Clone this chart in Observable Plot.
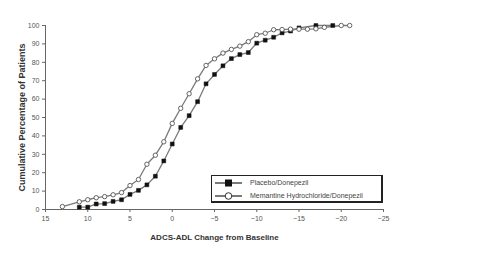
<!DOCTYPE html>
<html><head><meta charset="utf-8">
<script src="https://cdn.jsdelivr.net/npm/d3@7"></script>
<script src="https://cdn.jsdelivr.net/npm/@observablehq/plot@0.6"></script>
<style>
body{margin:0;background:#fff;}
#wrap{position:relative;width:483px;height:257px;font-family:Arial,"Liberation Sans",sans-serif;}
#legend{position:absolute;left:211px;top:175px;width:169px;height:25px;border:1.5px solid #222;border-right-width:2px;border-bottom-width:2px;background:#fff;}
#legend svg{display:block;}
</style></head>
<body><div id="wrap"></div>
<script>
const seriesNames = ["Placebo/Donepezil", "Memantine Hydrochloride/Donepezil"];
const placeboX = [11,10,9,8,7,6,5,4,3,2,1,0,-1,-2,-3,-4,-5,-6,-7,-8,-9,-10,-11,-12,-13,-14,-15,-17,-19];
const placeboY = [1.3,1.3,3,3.2,4.4,5.3,8.2,10.4,13.4,18.1,26.4,35.6,44.6,51,58.6,68.3,73.4,78.1,82,84.2,85.3,90.4,92,93.6,96,97,98.7,100,100];
const memantineX = [13,11,10,9,8,7,6,5,4,3,2,1,0,-1,-2,-3,-4,-5,-6,-7,-8,-9,-10,-11,-12,-13,-14,-15,-16,-17,-18,-20,-21];
const memantineY = [1.6,4.2,5.3,6.4,7,8,9.2,13,16.3,24.6,29.5,36.8,46.8,55,62.9,71,78.3,81.9,85,87,88.8,91.2,95,95.8,97.7,97.8,98,98,98,98.2,99,100,100];
const xTicks = [15,10,5,0,-5,-10,-15,-20,-25];
const yTicks = [0,10,20,30,40,50,60,70,80,90,100];
const xTitle = "ADCS-ADL Change from Baseline";
const yTitle = "Cumulative Percentage of Patients";

const placebo = placeboX.map((x,i)=>({x, y: placeboY[i]}));
const memantine = memantineX.map((x,i)=>({x, y: memantineY[i]}));

const chart = Plot.plot({
  width: 483, height: 257,
  marginLeft: 45, marginRight: 100, marginTop: 25, marginBottom: 48,
  style: {fontFamily: "Arial, 'Liberation Sans', sans-serif", fontSize: "7px", color: "#444", background: "#fff"},
  x: {domain: [15, -25]},
  y: {domain: [0, 100]},
  marks: [
    Plot.axisX({ticks: xTicks, tickSize: 3, tickPadding: 4, stroke: "#666", fill: "#555",
      label: xTitle, labelAnchor: "center", labelOffset: 30, labelArrow: "none"}),
    Plot.axisY({ticks: yTicks, tickSize: 3, tickPadding: 3, stroke: "#666", fill: "#555",
      label: yTitle, labelAnchor: "center", labelOffset: 27, labelArrow: "none"}),
    Plot.ruleY([0], {stroke: "#666"}),
    Plot.ruleX([15], {y1: 0, y2: 100, stroke: "#666"}),
    Plot.line(placebo, {x: "x", y: "y", stroke: "#7a7a7a", strokeWidth: 1.3}),
    Plot.line(memantine, {x: "x", y: "y", stroke: "#7a7a7a", strokeWidth: 1.3}),
    Plot.dot(placebo, {x: "x", y: "y", symbol: "square", r: 2.2, fill: "#111", stroke: "#111", strokeWidth: 0.5}),
    Plot.dot(memantine, {x: "x", y: "y", symbol: "circle", r: 2.2, fill: "#fff", stroke: "#555", strokeWidth: 0.9})
  ]
});
const wrap = document.getElementById("wrap");
wrap.appendChild(chart);
d3.select(chart).select('[aria-label="x-axis label"] text').text(xTitle)
  .style("font-weight", "bold").style("font-size", "8px").attr("fill", "#333");
d3.select(chart).select('[aria-label="y-axis label"] text').text(yTitle)
  .style("font-weight", "bold").style("font-size", "9px").attr("fill", "#333");

// legend
const leg = document.createElement("div");
leg.id = "legend";
const ls = d3.create("svg").attr("width", 169).attr("height", 25);
const rows = [
  {name: seriesNames[0], type: "square", y: 7},
  {name: seriesNames[1], type: "circle", y: 20}
];
rows.forEach(r => {
  ls.append("line").attr("x1", 3).attr("x2", 30).attr("y1", r.y).attr("y2", r.y).attr("stroke", "#222").attr("stroke-width", 1.2);
  if (r.type === "square") ls.append("rect").attr("x", 13).attr("y", r.y - 3.5).attr("width", 7).attr("height", 7).attr("fill", "#111");
  else ls.append("circle").attr("cx", 16.5).attr("cy", r.y).attr("r", 3.3).attr("fill", "#fff").attr("stroke", "#333").attr("stroke-width", 1);
  ls.append("text").attr("x", 38).attr("y", r.y).attr("dy", "0.35em").attr("font-size", "7px").attr("fill", "#444")
    .attr("font-family", "Arial, 'Liberation Sans', sans-serif").text(r.name);
});
leg.appendChild(ls.node());
wrap.appendChild(leg);
</script></body></html>
